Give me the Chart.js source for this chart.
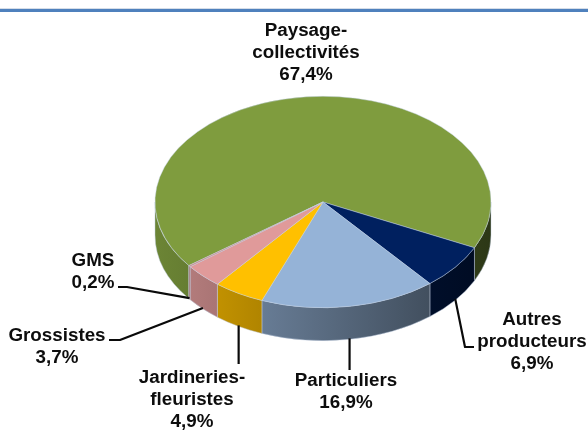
<!DOCTYPE html>
<html>
<head>
<meta charset="utf-8">
<script src="https://cdn.jsdelivr.net/npm/chart.js@4/dist/chart.umd.js"></script>
<style>
  html, body { margin: 0; padding: 0; background: #fff; }
  #topRule { position: absolute; left: 0; top: 9px; width: 588px; height: 3px; background: #4f81bd; border-top: 1px solid #d5dde8; margin-top: -1px; }
  canvas { position: absolute; left: 0; top: 0; }
</style>
</head>
<body>
<canvas id="pie3d" width="588" height="430"></canvas>
<div id="topRule"></div>
<script>
// Slices, clockwise from the start of the big one
const categories = [['Paysage-', 'collectivités'], ['Autres', 'producteurs'], ['Particuliers'], ['Jardineries-', 'fleuristes'], ['Grossistes'], ['GMS']];
const shares = [67.4, 6.9, 16.9, 4.9, 3.7, 0.2];
const sliceColors = ['#7f9c3e', '#00205f', '#95b3d7', '#ffc000', '#e09a9a', '#c98c8c'];

// Label placement: x centre, first baseline
const labelAnchors = [[306, 36], [532, 325], [346, 386], [192, 383], [57, 341], [93, 266]];
// Leader lines after the point on the slice edge (none for the big slice), null x = straight down
const leaderPaths = [null, [[465, 347], [474, 347]], [[null, 370]], [[null, 364]], [[120, 340], [109, 340]], [[127, 287], [118, 287]]];

const tilt = 106 / 168.5;
const depth = 33;

function shade(hex, f) {
  const n = parseInt(hex.slice(1), 16);
  const c = [n >> 16, (n >> 8) & 255, n & 255].map(v => Math.round(v * f));
  return `rgb(${c[0]},${c[1]},${c[2]})`;
}

const pie3d = {
  id: 'pie3d',
  beforeDatasetsDraw(chart) {
    const ctx = chart.ctx;
    const arcs = chart.getDatasetMeta(0).data;
    const cx = arcs[0].x, cy = arcs[0].y, rx = arcs[0].outerRadius, ry = rx * tilt;

    // Side wall, only the part of each slice facing the viewer
    arcs.forEach((arc, i) => {
      const grad = ctx.createLinearGradient(cx - rx, 0, cx + rx, 0);
      grad.addColorStop(0, shade(sliceColors[i], 0.85));
      grad.addColorStop(1, shade(sliceColors[i], 0.35));
      for (let k = -2; k <= 2; k++) {
        const a0 = Math.max(arc.startAngle, 2 * Math.PI * k);
        const a1 = Math.min(arc.endAngle, 2 * Math.PI * k + Math.PI);
        if (a1 <= a0) continue;
        ctx.beginPath();
        ctx.ellipse(cx, cy, rx, ry, 0, a0, a1);
        ctx.ellipse(cx, cy + depth, rx, ry, 0, a1, a0, true);
        ctx.closePath();
        ctx.fillStyle = grad;
        ctx.fill();
        ctx.strokeStyle = 'rgba(190,205,225,0.45)';
        ctx.lineWidth = 1;
        ctx.stroke();
      }
    });

    // Flatten the top face into an ellipse
    ctx.save();
    ctx.translate(cx, cy);
    ctx.scale(1, tilt);
    ctx.translate(-cx, -cy);
  },
  afterDatasetsDraw(chart) {
    const ctx = chart.ctx;
    ctx.restore();

    const arcs = chart.getDatasetMeta(0).data;
    const cx = arcs[0].x, cy = arcs[0].y, rx = arcs[0].outerRadius, ry = rx * tilt;

    ctx.strokeStyle = '#0a0a0a';
    ctx.lineWidth = 2.2;
    ctx.lineJoin = 'round';
    arcs.forEach((arc, i) => {
      if (!leaderPaths[i]) return;
      const mid = (arc.startAngle + arc.endAngle) / 2;
      const sx = cx + rx * Math.cos(mid);
      ctx.beginPath();
      ctx.moveTo(sx, cy + ry * Math.sin(mid) + depth - 1);
      leaderPaths[i].forEach(p => ctx.lineTo(p[0] === null ? sx : p[0], p[1]));
      ctx.stroke();
    });

    ctx.fillStyle = '#0d0d0d';
    ctx.font = 'bold 18.8px "Liberation Sans", Arial, sans-serif';
    ctx.textAlign = 'center';
    ctx.textBaseline = 'alphabetic';
    categories.forEach((lines, i) => {
      const text = lines.concat(shares[i].toFixed(1).replace('.', ',') + '%');
      text.forEach((t, j) => ctx.fillText(t, labelAnchors[i][0], labelAnchors[i][1] + j * 22));
    });
  }
};

new Chart(document.getElementById('pie3d'), {
  type: 'pie',
  data: {
    labels: categories.map(c => c.join(' ')),
    datasets: [{
      data: shares,
      backgroundColor: sliceColors,
      borderColor: 'rgba(195,210,230,0.55)',
      borderWidth: 1,
      clip: false
    }]
  },
  options: {
    responsive: false,
    animation: false,
    rotation: -127,
    events: [],
    layout: { padding: { left: 154.5, right: 96.5, top: 33.5, bottom: 59.5 } },
    plugins: { legend: { display: false }, tooltip: { enabled: false } }
  },
  plugins: [pie3d]
});
</script>
</body>
</html>
